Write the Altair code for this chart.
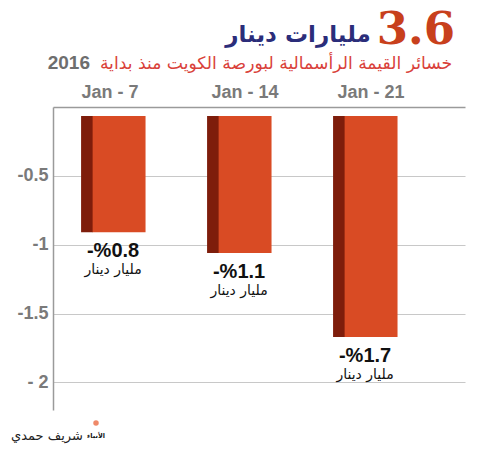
import altair as alt
import pandas as pd

dates = ["Jan - 7", "Jan - 14", "Jan - 21"]
values = [-0.91, -1.06, -1.67]
pct_labels = ["-%0.8", "-%1.1", "-%1.7"]
unit_label = "مليار دينار"
y_ticks = [-0.5, -1, -1.5, -2]

title_num = "3.6"
title_text = "مليارات دينار"
subtitle_text = "خسائر القيمة الرأسمالية لبورصة الكويت منذ بداية"
subtitle_year = "2016"
credit = "شريف حمدي"
logo = "الأنباء"

df = pd.DataFrame({"date": dates, "value": values, "label": pct_labels,
                   "unit": [unit_label] * 3})

AR = "DejaVu Sans"
x_scale = alt.Scale(domain=dates, paddingInner=0.58, paddingOuter=0.425, align=0.37)
y_scale = alt.Scale(domain=[-2.2, 0], nice=False, zero=False)

base = alt.Chart(df)

x_enc = alt.X("date:N", scale=x_scale, sort=dates,
              axis=alt.Axis(orient="top", title=None, ticks=False, domain=True,
                            domainColor="#9a9a9a", domainWidth=1.5,
                            labelFont="Liberation Sans", labelFontWeight="bold",
                            labelFontSize=18, labelColor="#7a7a7a", labelPadding=6,
                            labelAngle=0, grid=False,
                            labelOffset={"condition": {"test": "datum.value == 'Jan - 7'", "value": -9}, "value": 0}))
y_enc = alt.Y("value:Q", scale=y_scale,
              axis=alt.Axis(values=y_ticks, title=None, ticks=False, domain=True,
                            domainColor="#9a9a9a", domainWidth=1.5,
                            gridColor="#c8c8c8", gridWidth=1.2,
                            labelFont="Liberation Sans", labelFontWeight="bold",
                            labelFontSize=18, labelColor="#7a7a7a", labelPadding=5,
                            labelExpr="datum.value == -2 ? '- 2' : '-' + abs(datum.value)"))

side = base.mark_bar(color="#7e1d0b", width=12, xOffset=-32).encode(
    x=x_enc, y=y_enc, y2=alt.datum(-0.065))
face = base.mark_bar(color="#d94b24").encode(
    x=alt.X("date:N", scale=x_scale, sort=dates), y="value:Q", y2=alt.datum(-0.065))

lab = base.mark_text(font="Liberation Sans", fontWeight="bold", fontSize=20,
                     color="#111111", dy=19, dx=-6).encode(
    x=alt.X("date:N", scale=x_scale, sort=dates), y="value:Q", text="label:N")
unit = base.mark_text(font=AR, fontSize=14, color="#111111", dy=38, dx=-6,
                      dir="rtl").encode(
    x=alt.X("date:N", scale=x_scale, sort=dates), y="value:Q", text="unit:N")

def ann(text, x, y, size, color, font=AR, weight="normal", align="center", rtl=True):
    kw = dict(font=font, fontSize=size, color=color, fontWeight=weight, align=align,
              baseline="alphabetic")
    if rtl:
        kw["dir"] = "rtl"
    return alt.Chart(pd.DataFrame({"t": [text]})).mark_text(**kw).encode(
        x=alt.value(x), y=alt.value(y), text="t:N")

texts = [
    ann(title_num, 402, -63, 45, "#c8401c", font="DejaVu Serif", weight="bold",
        align="right", rtl=False),
    ann(title_text, 245, -65, 23, "#2b2d7a", weight="bold"),
    ann(subtitle_text, 223, -38, 17.2, "#d9413a"),
    ann(subtitle_year, 37, -38, 19, "#6e6e6e", font="Liberation Sans", weight="bold",
        align="right", rtl=False),
    ann(credit, -6, 333, 13, "#222222"),
    ann(logo, 43, 331, 6.5, "#111111", weight="bold"),
]
flame = alt.Chart(pd.DataFrame({"t": [0]})).mark_point(
    shape="circle", filled=True, color="#e8572a", size=30).encode(
    x=alt.value(43), y=alt.value(316))

chart = alt.layer(side, face, lab, unit, *texts, flame).properties(
    width=412, height=303,
    padding={"left": 53, "top": 107, "right": 25, "bottom": 40},
    autosize=alt.AutoSizeParams(type="none"),
    background="white",
).configure_view(stroke=None)

chart.save("out.html", embed_options={"renderer": "svg", "actions": False})
